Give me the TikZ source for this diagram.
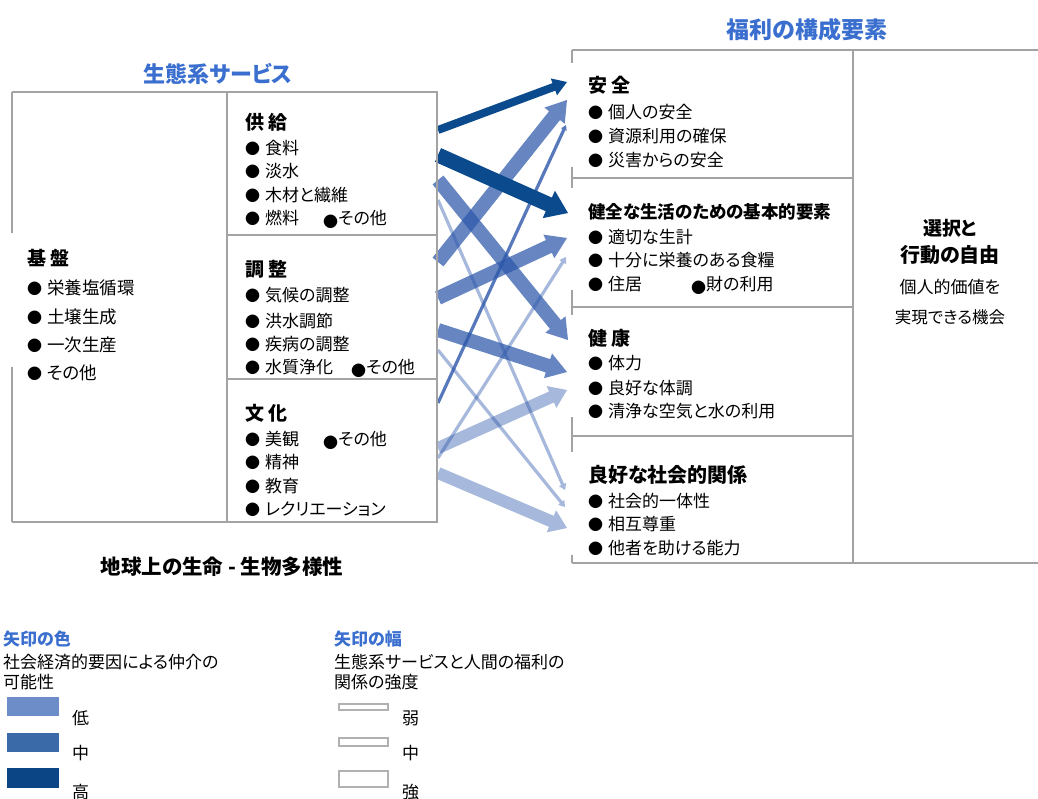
\documentclass[tikz,border=0pt]{standalone}
\usepackage{fontspec}
\setmainfont{Noto Sans CJK JP}[RawFeature=+palt]
\usetikzlibrary{calc}
\definecolor{ttlblue}{HTML}{3A6FCF}
\definecolor{boxgray}{HTML}{A3A3A3}
\definecolor{arrdark}{HTML}{0B4A8C}
\definecolor{arrbase}{RGB}{45,88,170}
\definecolor{legl}{HTML}{6C8DC8}
\definecolor{legm}{HTML}{3A6AA8}
\definecolor{legh}{HTML}{0B4585}
\newcommand\fs[1]{\fontsize{#1}{#1}\selectfont}
\newcommand\bl{\makebox[20pt][l]{\raisebox{-0.5pt}{\fs{15}●}}}
\newcommand\ibl{\makebox[15pt][l]{\raisebox{-3pt}{\fs{15}●}}}
% fat arrow: style, from, to, half shaft, half head, head length
\newcommand\fatarr[6]{%
  \coordinate (hb) at ($(#3)!#6!(#2)$);
  \fill[#1] ($(#2)!#4!90:(#3)$) -- ($(hb)!#4!90:(#3)$) -- ($(hb)!#5!90:(#3)$) -- (#3)
    -- ($(hb)!#5!-90:(#3)$) -- ($(hb)!#4!-90:(#3)$) -- ($(#2)!#4!-90:(#3)$) -- cycle;}
\begin{document}
\begin{tikzpicture}[x=1pt,y=-1pt,
  boxline/.style={draw=boxgray,line width=2pt},
  legbox/.style={draw=boxgray!85,line width=2pt,fill=white},
  tx/.style={anchor=base west,inner sep=0pt,font=\fs{17}},
  txb/.style={anchor=base west,inner sep=0pt,font=\fs{17.5}},
  hd/.style={anchor=base west,inner sep=0pt,font=\fs{19}\bfseries},
  ctr/.style={anchor=base,inner sep=0pt},
  blue title/.style={anchor=base,inner sep=0pt,text=ttlblue,font=\fs{22}\bfseries},
  hiarr/.style={fill=arrdark},
  midarr/.style={fill=arrbase,fill opacity=0.72},
  loarr/.style={fill=arrbase,fill opacity=0.42},
  thinmid/.style={fill=arrbase,fill opacity=0.8},
  thinlo/.style={fill=arrbase,fill opacity=0.42}]
\useasboundingbox (0,0) rectangle (1038,799);
\fill[white] (0,0) rectangle (1038,799);

% ---------- arrow end points ----------
\coordinate (s1) at (438,130);  \coordinate (e1) at (567,82);
\coordinate (s2) at (438,155);  \coordinate (e2) at (568,213);
\coordinate (s3) at (438,262);  \coordinate (e3) at (567,100);
\coordinate (s4) at (438,298);  \coordinate (e4) at (567,238);
\coordinate (s5) at (438,180);  \coordinate (e5) at (568,340);
\coordinate (s6) at (438,330);  \coordinate (e6) at (567,372);
\coordinate (s7) at (438,448);  \coordinate (e7) at (567,390);
\coordinate (s8) at (438,473);  \coordinate (e8) at (567,528);
\coordinate (s9) at (438,403);  \coordinate (e9) at (566,125);
\coordinate (s10) at (438,458); \coordinate (e10) at (566,257);
\coordinate (s11) at (438,200); \coordinate (e11) at (565,490);
\coordinate (s12) at (438,350); \coordinate (e12) at (565,507);

% light arrows
\fatarr{loarr}{s7}{e7}{6pt}{12pt}{17pt}
\fatarr{loarr}{s8}{e8}{6pt}{12pt}{17pt}
\fatarr{thinlo}{s10}{e10}{1.6pt}{4pt}{6pt}
\fatarr{thinlo}{s11}{e11}{1.6pt}{4pt}{6pt}
\fatarr{thinlo}{s12}{e12}{1.6pt}{4pt}{6pt}
% medium arrows
\fatarr{midarr}{s3}{e3}{7pt}{13pt}{20pt}
\fatarr{midarr}{s4}{e4}{7pt}{13pt}{20pt}
\fatarr{midarr}{s5}{e5}{7pt}{13pt}{20pt}
\fatarr{midarr}{s6}{e6}{7pt}{13pt}{20pt}
\fatarr{thinmid}{s9}{e9}{1.6pt}{3pt}{5pt}
% dark arrows
\fatarr{hiarr}{s1}{e1}{4pt}{9pt}{14pt}
\fatarr{hiarr}{s2}{e2}{7.5pt}{15pt}{21pt}

% ---------- ecosystem services box ----------
\draw[boxline] (12,92) -- (437,92) -- (437,522) -- (12,522);
\draw[boxline] (12,92) -- (12,233);
\draw[boxline] (12,367) -- (12,522);
\draw[boxline] (227,92) -- (227,522);
\draw[boxline] (227,235) -- (437,235);
\draw[boxline] (227,379) -- (437,379);

% ---------- well-being box ----------
\draw[boxline] (572,50) -- (1038,50);
\draw[boxline] (572,563) -- (1038,563);
\draw[boxline] (853,50) -- (853,563);
\draw[boxline] (572,178) -- (853,178);
\draw[boxline] (572,307) -- (853,307);
\draw[boxline] (572,436) -- (853,436);
\draw[boxline] (572,50) -- (572,63);
\draw[boxline] (572,167) -- (572,188);
\draw[boxline] (572,290) -- (572,315);
\draw[boxline] (572,417) -- (572,452);
\draw[boxline] (572,555) -- (572,563);

% ---------- titles ----------
\node[blue title,font=\fs{22}\bfseries] (ttlES) at (218,83) {生態系サービス};
\node[blue title,font=\fs{23}\bfseries] (ttlWB) at (807,39) {福利の構成要素};

% supporting
\node[hd] (sup) at (27,266) {基 盤};
\node[txb] (sup1) at (27,294.3) {\bl 栄養塩循環};
\node[txb] (sup2) at (27,323.3) {\bl 土壌生成};
\node[txb] (sup3) at (27,351.3) {\bl 一次生産};
\node[txb] (sup4) at (27,379.3) {\bl その他};

% provisioning
\node[hd] (prv) at (245,130) {供 給};
\node[tx] (prv1) at (245,154.3) {\bl 食料};
\node[tx] (prv2) at (245,177.3) {\bl 淡水};
\node[tx] (prv3) at (245,201.3) {\bl 木材と繊維};
\node[tx] (prv4) at (245,224.3) {\bl 燃料};
\node[tx] (prv5) at (323,224.3) {\ibl その他};

% regulating
\node[hd] (reg) at (245,277) {調 整};
\node[tx] (reg1) at (245,301.3) {\bl 気候の調整};
\node[tx] (reg2) at (245,327.3) {\bl 洪水調節};
\node[tx] (reg3) at (245,350.3) {\bl 疾病の調整};
\node[tx] (reg4) at (245,373.3) {\bl 水質浄化};
\node[tx] (reg5) at (351,373.3) {\ibl その他};

% cultural
\node[hd] (cul) at (245,420) {文 化};
\node[tx] (cul1) at (245,445.3) {\bl 美観};
\node[tx] (cul2) at (323,445.3) {\ibl その他};
\node[tx] (cul3) at (245,468.3) {\bl 精神};
\node[tx] (cul4) at (245,492.3) {\bl 教育};
\node[tx] (cul5) at (245,515.3) {\bl レクリエーション};

\node[ctr,font=\fs{20.5}\bfseries] (life) at (222,574) {地球上の生命 - 生物多様性};

% security
\node[hd] (sec) at (588,93) {安 全};
\node[tx] (sec1) at (588,118.3) {\bl 個人の安全};
\node[tx] (sec2) at (588,142.3) {\bl 資源利用の確保};
\node[tx] (sec3) at (588,166.3) {\bl 災害からの安全};

% basic material
\node[hd,font=\fs{17.5}\bfseries] (bas) at (588,218.5) {健全な生活のための基本的要素};
\node[tx] (bas1) at (588,243.3) {\bl 適切な生計};
\node[tx] (bas2) at (588,266.3) {\bl 十分に栄養のある食糧};
\node[tx] (bas3) at (588,290.3) {\bl 住居};
\node[tx] (bas4) at (691,290.3) {\ibl 財の利用};

% health
\node[hd] (hea) at (588,345) {健 康};
\node[tx] (hea1) at (588,369.3) {\bl 体力};
\node[tx] (hea2) at (588,394.3) {\bl 良好な体調};
\node[tx] (hea3) at (588,417.3) {\bl 清浄な空気と水の利用};

% social relations
\node[hd,font=\fs{20}\bfseries] (soc) at (588,482.5) {良好な社会的関係};
\node[tx] (soc1) at (588,507.3) {\bl 社会的一体性};
\node[tx] (soc2) at (588,530.3) {\bl 相互尊重};
\node[tx] (soc3) at (588,554.3) {\bl 他者を助ける能力};

% freedom
\node[ctr,font=\fs{19}\bfseries] (fr1) at (950,235.5) {選択と};
\node[ctr,font=\fs{20}\bfseries] (fr2) at (950,262.5) {行動の自由};
\node[ctr,font=\fs{17}] (fr3) at (950,293.3) {個人的価値を};
\node[ctr,font=\fs{16.5}] (fr4) at (950,323.3) {実現できる機会};

% ---------- legend: colour ----------
\node[tx,text=ttlblue,font=\fs{17}\bfseries] (lc) at (3,645.3) {矢印の色};
\node[tx] (lc1) at (3,668.3) {社会経済的要因による仲介の};
\node[tx] (lc2) at (3,688.3) {可能性};
\fill[legl] (7,697) rectangle (59,716);
\fill[legm] (7,733) rectangle (59,752);
\fill[legh] (7,768) rectangle (59,788);
\node[tx] (lcl) at (72,724.3) {低};
\node[tx] (lcm) at (72,759.3) {中};
\node[tx] (lch) at (72,798.3) {高};

% ---------- legend: width ----------
\node[tx,text=ttlblue,font=\fs{17}\bfseries] (lw) at (334,645.3) {矢印の幅};
\node[tx] (lw1) at (334,668.3) {生態系サービスと人間の福利の};
\node[tx] (lw2) at (334,688.3) {関係の強度};
\draw[legbox] (339,704) rectangle (388,710);
\draw[legbox] (339,738) rectangle (388,746);
\draw[legbox] (339,771) rectangle (388,787);
\node[tx] (lww) at (402,724.3) {弱};
\node[tx] (lwm) at (402,759.3) {中};
\node[tx] (lws) at (402,798.3) {強};
\end{tikzpicture}
\end{document}
